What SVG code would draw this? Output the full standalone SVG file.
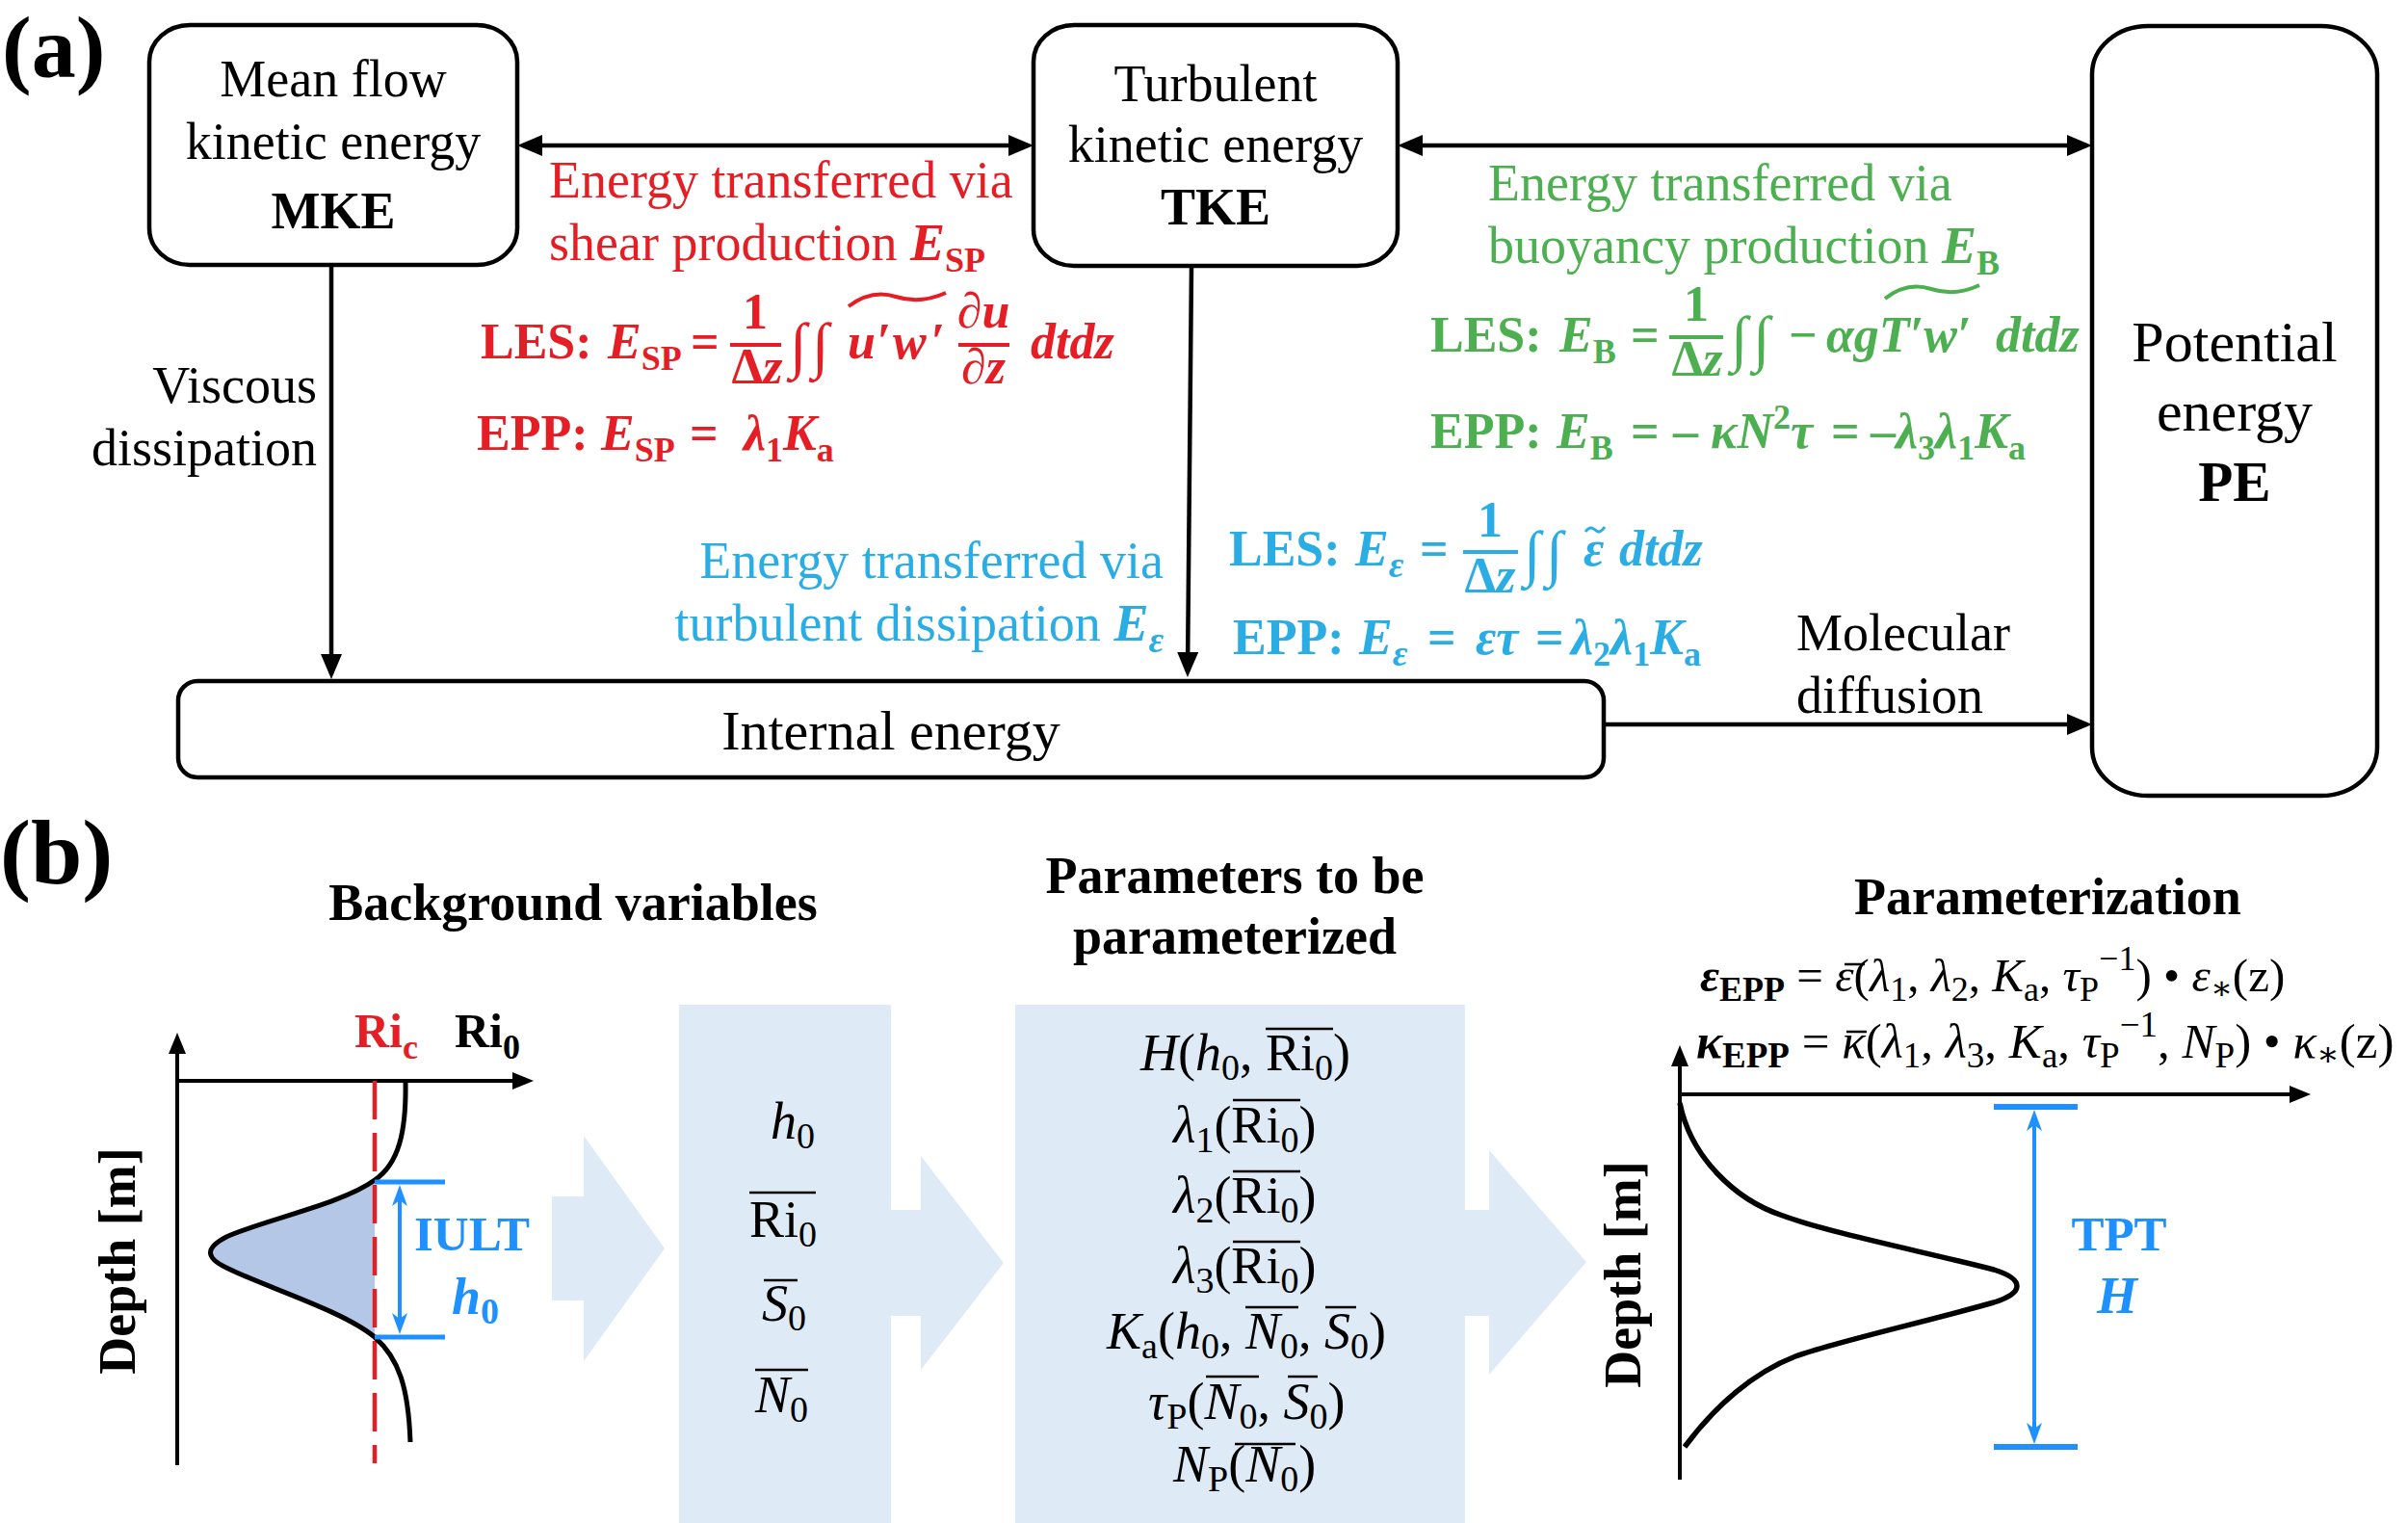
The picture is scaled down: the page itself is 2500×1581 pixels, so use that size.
<svg xmlns="http://www.w3.org/2000/svg" width="2500" height="1581" viewBox="0 0 2500 1581">
<style>
text { font-family: "Liberation Serif", "Times New Roman", "DejaVu Serif", serif; fill: #000; }
.f54 { font-size: 54px; }
.b { font-weight: bold; }
.i { font-style: italic; }
.red { fill: #E51E25; }
.grn { fill: #4CAF50; }
.blu { fill: #2AADE4; }
.dblu { fill: #1E90FF; }
.box { fill: #fff; stroke: #000; stroke-width: 4.5; }
.conn { stroke: #000; stroke-width: 4.5; fill: none; }
.ax { stroke: #000; stroke-width: 4; fill: none; }
.panel { fill: #DEEAF6; }
.bar { stroke-width: 4; }
.int { font-size: 64px; font-weight: normal; font-style: italic; }
</style>
<defs>
<marker id="ah" markerUnits="userSpaceOnUse" markerWidth="26" markerHeight="22" refX="20" refY="11" orient="auto-start-reverse" viewBox="0 0 26 22"><path d="M0,0 L26,11 L0,22 z" fill="#000"/></marker>
<marker id="as" markerUnits="userSpaceOnUse" markerWidth="22" markerHeight="18" refX="16" refY="9" orient="auto-start-reverse" viewBox="0 0 22 18"><path d="M0,0 L22,9 L0,18 z" fill="#000"/></marker>
<marker id="ab" markerUnits="userSpaceOnUse" markerWidth="22" markerHeight="16" refX="16" refY="8" orient="auto-start-reverse" viewBox="0 0 22 16"><path d="M0,0 L22,8 L0,16 L6,8 z" fill="#1E90FF"/></marker>
</defs>
<rect x="0" y="0" width="2500" height="1581" fill="#fff"/>

<!-- Part (a) -->
<text x="2" y="80" class="b" font-size="92">(a)</text>

<g id="connectors">
<line class="conn" x1="543" y1="151" x2="1067" y2="151" marker-start="url(#ah)" marker-end="url(#ah)"/>
<line class="conn" x1="1457" y1="151" x2="2166" y2="151" marker-start="url(#ah)" marker-end="url(#ah)"/>
<line class="conn" x1="344" y1="275" x2="344" y2="699" stroke-width="4" marker-end="url(#ah)"/>
<line class="conn" x1="1237" y1="276" x2="1233" y2="697" stroke-width="4" marker-end="url(#ah)"/>
<line class="conn" x1="1666" y1="752" x2="2166" y2="752" marker-end="url(#ah)"/>
</g>

<g id="node-mke">
<rect class="box" x="155" y="26" width="382" height="249" rx="42" ry="38"/>
<text x="346" y="100" class="f54" text-anchor="middle">Mean flow</text>
<text x="346" y="165" class="f54" text-anchor="middle">kinetic energy</text>
<text x="346" y="237" class="f54 b" text-anchor="middle">MKE</text>
</g>

<g id="node-tke">
<rect class="box" x="1073" y="26" width="378" height="250" rx="42" ry="38"/>
<text x="1262" y="105" class="f54" text-anchor="middle">Turbulent</text>
<text x="1262" y="168" class="f54" text-anchor="middle">kinetic energy</text>
<text x="1262" y="233" class="f54 b" text-anchor="middle">TKE</text>
</g>

<g id="node-pe">
<rect class="box" x="2172" y="27" width="296" height="799" rx="58" ry="50"/>
<text x="2320" y="375" font-size="60" text-anchor="middle">Potential</text>
<text x="2320" y="447" font-size="60" text-anchor="middle">energy</text>
<text x="2320" y="520" font-size="59" class="b" text-anchor="middle">PE</text>
</g>

<g id="node-internal">
<rect class="box" x="185" y="707" width="1480" height="100" rx="20" ry="20"/>
<text x="925" y="778" font-size="58" text-anchor="middle">Internal energy</text>
</g>

<g id="labels-a">
<text x="329" y="418" class="f54" text-anchor="end">Viscous</text>
<text x="329" y="483" class="f54" text-anchor="end">dissipation</text>
<text x="1865" y="675" class="f54">Molecular</text>
<text x="1865" y="740" class="f54">diffusion</text>

<text x="570" y="205" class="f54 red">Energy transferred via</text>
<text x="570" y="270" class="f54 red">shear production <tspan class="i b">E</tspan><tspan class="b" font-size="36" dy="12">SP</tspan></text>

<text x="1545" y="208" class="f54 grn">Energy transferred via</text>
<text x="1545" y="273" class="f54 grn">buoyancy production <tspan class="i b">E</tspan><tspan class="b" font-size="36" dy="12">B</tspan></text>

<text x="1208" y="600" class="f54 blu" text-anchor="end">Energy transferred via</text>
<text x="1208" y="665" class="f54 blu" text-anchor="end">turbulent dissipation <tspan class="i b">E</tspan><tspan class="i b" font-size="38" dy="12">ε</tspan></text>
</g>

<!-- red formulas -->
<g id="formula-sp" class="b" font-size="52">
<text y="372" class="red"><tspan x="499">LES:</tspan><tspan x="631" class="i">E</tspan><tspan font-size="36" dy="12">SP</tspan><tspan x="717" dy="-12">=</tspan></text>
<text x="784" y="341" class="red" text-anchor="middle">1</text>
<line x1="758" y1="358" x2="811" y2="358" stroke="#E51E25" class="bar"/>
<text x="786" y="398" class="red" text-anchor="middle">Δ<tspan class="i">z</tspan></text>
<text y="380" class="red int"><tspan x="820">∫</tspan><tspan x="843">∫</tspan></text>
<text y="372" class="red i"><tspan x="880">u</tspan><tspan x="910">′</tspan><tspan x="927">w</tspan><tspan x="966">′</tspan></text>
<path d="M881,318 Q905,300 930,308 T982,304" fill="none" stroke="#E51E25" stroke-width="4"/>
<text x="1021" y="340" class="red i" text-anchor="middle">∂u</text>
<line x1="995" y1="358" x2="1048" y2="358" stroke="#E51E25" class="bar"/>
<text x="1021" y="398" class="red i" text-anchor="middle">∂z</text>
<text x="1070" y="372" class="red i">dtdz</text>

<text y="467" class="red"><tspan x="495">EPP:</tspan><tspan x="624" class="i">E</tspan><tspan font-size="36" dy="12">SP</tspan><tspan x="716" dy="-12">=</tspan><tspan x="772" class="i">λ</tspan><tspan font-size="36" dy="12">1</tspan><tspan class="i" dy="-12">K</tspan><tspan font-size="36" dy="12">a</tspan></text>
</g>

<!-- green formulas -->
<g id="formula-b" class="b" font-size="52">
<text y="365" class="grn"><tspan x="1485">LES:</tspan><tspan x="1619" class="i">E</tspan><tspan font-size="36" dy="12">B</tspan><tspan x="1693" dy="-12">=</tspan></text>
<text x="1761" y="333" class="grn" text-anchor="middle">1</text>
<line x1="1733" y1="350" x2="1789" y2="350" stroke="#4CAF50" class="bar"/>
<text x="1762" y="390" class="grn" text-anchor="middle">Δ<tspan class="i">z</tspan></text>
<text y="373" class="grn int"><tspan x="1797">∫</tspan><tspan x="1820">∫</tspan></text>
<text x="1857" y="365" class="grn">−</text>
<text x="1896" y="365" class="grn i">αgT′w′</text>
<path d="M1957,310 Q1980,292 2005,300 T2055,296" fill="none" stroke="#4CAF50" stroke-width="4"/>
<text x="2072" y="365" class="grn i">dtdz</text>

<text y="465" class="grn"><tspan x="1485">EPP:</tspan><tspan x="1616" class="i">E</tspan><tspan font-size="36" dy="12">B</tspan><tspan x="1693" dy="-12">=</tspan><tspan x="1737">–</tspan><tspan x="1776" class="i">κN</tspan><tspan font-size="36" dy="-20">2</tspan><tspan class="i" dy="20">τ</tspan><tspan x="1901">=</tspan><tspan x="1942">–</tspan><tspan class="i">λ</tspan><tspan font-size="36" dy="12">3</tspan><tspan class="i" dy="-12">λ</tspan><tspan font-size="36" dy="12">1</tspan><tspan class="i" dy="-12">K</tspan><tspan font-size="36" dy="12">a</tspan></text>
</g>

<!-- blue formulas -->
<g id="formula-eps" class="b" font-size="52">
<text y="587" class="blu"><tspan x="1276">LES:</tspan><tspan x="1407" class="i">E</tspan><tspan class="i" font-size="38" dy="12">ε</tspan><tspan x="1474" dy="-12">=</tspan></text>
<text x="1547" y="557" class="blu" text-anchor="middle">1</text>
<line x1="1519" y1="573" x2="1576" y2="573" stroke="#2AADE4" class="bar"/>
<text x="1547" y="615" class="blu" text-anchor="middle">Δ<tspan class="i">z</tspan></text>
<text y="596" class="blu int"><tspan x="1582">∫</tspan><tspan x="1605">∫</tspan></text>
<text x="1644" y="587" class="blu i">ε</text>
<path d="M1646,552 q5,-7 10,-2 t10,-3" fill="none" stroke="#2AADE4" stroke-width="3"/>
<text x="1681" y="587" class="blu i">dtdz</text>

<text y="679" class="blu"><tspan x="1280">EPP:</tspan><tspan x="1411" class="i">E</tspan><tspan class="i" font-size="38" dy="12">ε</tspan><tspan x="1482" dy="-12">=</tspan><tspan x="1532" class="i">ετ</tspan><tspan x="1594">=</tspan><tspan x="1631" class="i">λ</tspan><tspan font-size="36" dy="12">2</tspan><tspan class="i" dy="-12">λ</tspan><tspan font-size="36" dy="12">1</tspan><tspan class="i" dy="-12">K</tspan><tspan font-size="36" dy="12">a</tspan></text>
</g>

<!-- Part (b) -->
<text x="0" y="917" class="b" font-size="96">(b)</text>
<text x="595" y="955" class="f54 b" text-anchor="middle">Background variables</text>
<text x="1282" y="927" class="f54 b" text-anchor="middle">Parameters to be</text>
<text x="1282" y="990" class="f54 b" text-anchor="middle">parameterized</text>
<text x="2126" y="949" class="f54 b" text-anchor="middle">Parameterization</text>

<g id="flow-arrows">
<polygon class="panel" points="573,1242 606,1242 606,1179 690,1296 606,1413 606,1350 573,1350"/>
<polygon class="panel" points="920,1256 956,1256 956,1200 1042,1311 956,1422 956,1366 920,1366"/>
<polygon class="panel" points="1518,1256 1546,1256 1546,1194 1647,1310 1546,1427 1546,1366 1518,1366"/>
</g>

<g id="background-plot">
<path d="M389,1225 C355,1250 275,1266 235,1284 C212,1296 214,1306 235,1316 C275,1336 355,1360 389,1388 Z" fill="#B4C7E7"/>
<line class="ax" x1="184" y1="1521" x2="184" y2="1078" marker-end="url(#as)"/>
<line class="ax" x1="184" y1="1122" x2="548" y2="1122" marker-end="url(#as)"/>
<line x1="389" y1="1122" x2="389" y2="1519" stroke="#E51E25" stroke-width="4.5" stroke-dasharray="40,14"/>
<path d="M421,1122 C422,1175 414,1208 389,1225 C355,1250 275,1266 235,1284 C212,1296 214,1306 235,1316 C275,1336 355,1360 389,1388 C414,1410 424,1440 426,1497" fill="none" stroke="#000" stroke-width="5"/>
<line x1="389" y1="1227" x2="462" y2="1227" stroke="#1E90FF" stroke-width="5"/>
<line x1="389" y1="1388" x2="462" y2="1388" stroke="#1E90FF" stroke-width="5"/>
<line x1="415" y1="1236" x2="415" y2="1379" stroke="#1E90FF" stroke-width="4" marker-start="url(#ab)" marker-end="url(#ab)"/>
<text x="368" y="1087" class="b red" font-size="50">Ri<tspan font-size="36" dy="12">c</tspan></text>
<text x="472" y="1087" class="b" font-size="50">Ri<tspan font-size="36" dy="12">0</tspan></text>
<text x="430" y="1298" class="b dblu" font-size="51">IULT</text>
<text x="469" y="1364" class="b i dblu" font-size="54">h<tspan font-size="38" dy="10" font-style="normal">0</tspan></text>
<text transform="translate(140,1309) rotate(-90)" class="f54 b" text-anchor="middle">Depth [m]</text>
</g>

<g id="node-background">
<rect class="panel" x="705" y="1043" width="220" height="538"/>
<text x="800" y="1182" class="f54"><tspan class="i">h</tspan><tspan font-size="38" dy="10">0</tspan></text>
<text x="778" y="1284" class="f54">Ri<tspan font-size="38" dy="10">0</tspan></text>
<line x1="778" y1="1238" x2="847" y2="1238" stroke="#000" stroke-width="2.5"/>
<text x="791" y="1371" class="f54"><tspan class="i">S</tspan><tspan font-size="38" dy="10">0</tspan></text>
<line x1="793" y1="1329" x2="828" y2="1329" stroke="#000" stroke-width="2.5"/>
<text x="784" y="1466" class="f54"><tspan class="i">N</tspan><tspan font-size="38" dy="10">0</tspan></text>
<line x1="784" y1="1422" x2="839" y2="1422" stroke="#000" stroke-width="2.5"/>
</g>

<g id="node-parameters">
<rect class="panel" x="1054" y="1043" width="467" height="538"/>
<text x="1184" y="1111" class="f54"><tspan class="i">H</tspan>(<tspan class="i">h</tspan><tspan font-size="38" dy="10">0</tspan><tspan dy="-10">, Ri</tspan><tspan font-size="38" dy="10">0</tspan><tspan dy="-10">)</tspan></text>
<line x1="1314" y1="1068" x2="1384" y2="1068" stroke="#000" stroke-width="2.5"/>
<text x="1218" y="1186" class="f54"><tspan class="i">λ</tspan><tspan font-size="38" dy="10">1</tspan><tspan dy="-10">(Ri</tspan><tspan font-size="38" dy="10">0</tspan><tspan dy="-10">)</tspan></text>
<line x1="1280" y1="1142" x2="1350" y2="1142" stroke="#000" stroke-width="2.5"/>
<text x="1218" y="1259" class="f54"><tspan class="i">λ</tspan><tspan font-size="38" dy="10">2</tspan><tspan dy="-10">(Ri</tspan><tspan font-size="38" dy="10">0</tspan><tspan dy="-10">)</tspan></text>
<line x1="1280" y1="1216" x2="1350" y2="1216" stroke="#000" stroke-width="2.5"/>
<text x="1218" y="1332" class="f54"><tspan class="i">λ</tspan><tspan font-size="38" dy="10">3</tspan><tspan dy="-10">(Ri</tspan><tspan font-size="38" dy="10">0</tspan><tspan dy="-10">)</tspan></text>
<line x1="1280" y1="1289" x2="1350" y2="1289" stroke="#000" stroke-width="2.5"/>
<text x="1149" y="1400" class="f54"><tspan class="i">K</tspan><tspan font-size="38" dy="10">a</tspan><tspan dy="-10">(</tspan><tspan class="i">h</tspan><tspan font-size="38" dy="10">0</tspan><tspan dy="-10">, </tspan><tspan class="i">N</tspan><tspan font-size="38" dy="10">0</tspan><tspan dy="-10">, </tspan><tspan class="i">S</tspan><tspan font-size="38" dy="10">0</tspan><tspan dy="-10">)</tspan></text>
<line x1="1293" y1="1357" x2="1348" y2="1357" stroke="#000" stroke-width="2.5"/>
<line x1="1376" y1="1357" x2="1408" y2="1357" stroke="#000" stroke-width="2.5"/>
<text x="1192" y="1473" class="f54"><tspan class="i">τ</tspan><tspan font-size="38" dy="10">P</tspan><tspan dy="-10">(</tspan><tspan class="i">N</tspan><tspan font-size="38" dy="10">0</tspan><tspan dy="-10">, </tspan><tspan class="i">S</tspan><tspan font-size="38" dy="10">0</tspan><tspan dy="-10">)</tspan></text>
<line x1="1252" y1="1429" x2="1307" y2="1429" stroke="#000" stroke-width="2.5"/>
<line x1="1337" y1="1429" x2="1368" y2="1429" stroke="#000" stroke-width="2.5"/>
<text x="1218" y="1538" class="f54"><tspan class="i">N</tspan><tspan font-size="38" dy="10">P</tspan><tspan dy="-10">(</tspan><tspan class="i">N</tspan><tspan font-size="38" dy="10">0</tspan><tspan dy="-10">)</tspan></text>
<line x1="1282" y1="1499" x2="1345" y2="1499" stroke="#000" stroke-width="2.5"/>
</g>

<g id="parameterization">
<text x="1765" y="1029" font-size="49"><tspan class="b i">ε</tspan><tspan class="b" font-size="36" dy="10">EPP</tspan><tspan dy="-10"> = </tspan><tspan class="i">ε</tspan>(<tspan class="i">λ</tspan><tspan font-size="36" dy="10">1</tspan><tspan dy="-10">, </tspan><tspan class="i">λ</tspan><tspan font-size="36" dy="10">2</tspan><tspan dy="-10">, </tspan><tspan class="i">K</tspan><tspan font-size="36" dy="10">a</tspan><tspan dy="-10">, </tspan><tspan class="i">τ</tspan><tspan font-size="36" dy="10">P</tspan><tspan font-size="36" dy="-32">−1</tspan><tspan dy="22">) • </tspan><tspan class="i">ε</tspan><tspan font-size="34" dy="8">∗</tspan><tspan dy="-8">(z)</tspan></text>
<line x1="1915" y1="1001" x2="1936" y2="1001" stroke="#000" stroke-width="2.5"/>
<text x="1761" y="1098" font-size="51"><tspan class="b i">κ</tspan><tspan class="b" font-size="37" dy="10">EPP</tspan><tspan dy="-10"> = </tspan><tspan class="i">κ</tspan>(<tspan class="i">λ</tspan><tspan font-size="37" dy="10">1</tspan><tspan dy="-10">, </tspan><tspan class="i">λ</tspan><tspan font-size="37" dy="10">3</tspan><tspan dy="-10">, </tspan><tspan class="i">K</tspan><tspan font-size="37" dy="10">a</tspan><tspan dy="-10">, </tspan><tspan class="i">τ</tspan><tspan font-size="37" dy="10">P</tspan><tspan font-size="37" dy="-32">−1</tspan><tspan dy="22">, </tspan><tspan class="i">N</tspan><tspan font-size="37" dy="10">P</tspan><tspan dy="-10">) • </tspan><tspan class="i">κ</tspan><tspan font-size="35" dy="8">∗</tspan><tspan dy="-8">(z)</tspan></text>
<line x1="1917" y1="1071" x2="1938" y2="1071" stroke="#000" stroke-width="2.5"/>

<line class="ax" x1="1744" y1="1536" x2="1744" y2="1091" marker-end="url(#as)"/>
<line class="ax" x1="1744" y1="1136" x2="2393" y2="1136" marker-end="url(#as)"/>
<path d="M1744,1145 C1755,1200 1800,1245 1851,1262 C1900,1280 2000,1300 2070,1318 C2102,1328 2102,1342 2070,1352 C2000,1372 1905,1393 1864,1408 C1820,1425 1780,1460 1749,1502" fill="none" stroke="#000" stroke-width="5.5"/>
<line x1="2070" y1="1149" x2="2157" y2="1149" stroke="#1E90FF" stroke-width="6"/>
<line x1="2070" y1="1502" x2="2157" y2="1502" stroke="#1E90FF" stroke-width="6"/>
<line x1="2112" y1="1158" x2="2112" y2="1493" stroke="#1E90FF" stroke-width="4" marker-start="url(#ab)" marker-end="url(#ab)"/>
<text x="2200" y="1298" class="b dblu" font-size="51" text-anchor="middle">TPT</text>
<text x="2198" y="1363" class="b i dblu" font-size="54" text-anchor="middle">H</text>
<text transform="translate(1703,1323) rotate(-90)" class="f54 b" text-anchor="middle">Depth [m]</text>
</g>
</svg>
